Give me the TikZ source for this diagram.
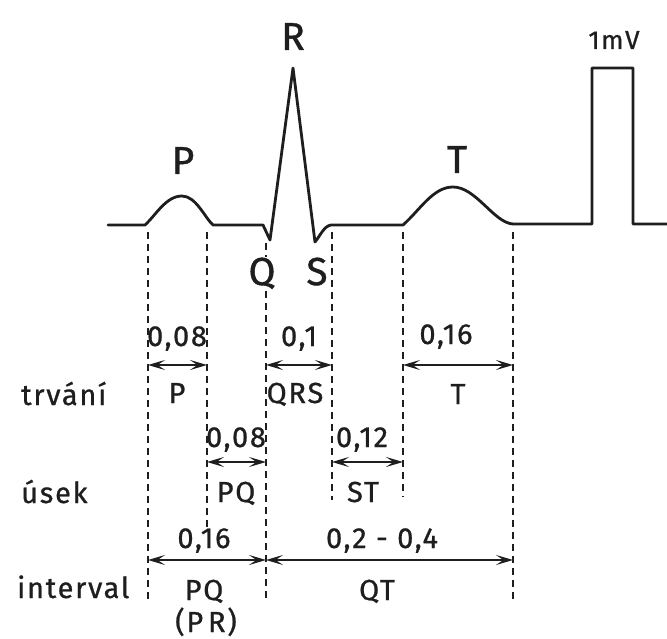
\documentclass[tikz,border=0pt]{standalone}
\usepackage{fontspec}
\setmainfont{Fira Sans}[FakeBold=0.8]
\newfontfamily\lblfont{Fira Sans}[LetterSpace=6,FakeBold=0.8]
\newfontfamily\bigfont{Fira Sans}[FakeBold=1]
\usetikzlibrary{arrows.meta}
\definecolor{ink}{RGB}{30,30,30}
\tikzset{
  trace/.style={ink, line width=2.8pt, line join=round, line cap=round},
  guide/.style={ink, line width=1.2pt, dash pattern=on 7pt off 5pt},
  dimarrow/.style={ink, line width=1.8pt, {Stealth[length=17pt,width=10pt,inset=7.5pt]}-{Stealth[length=17pt,width=10pt,inset=7.5pt]}},
  big/.style={ink, font=\bigfont\fontsize{39}{42}\selectfont, inner sep=0pt, anchor=base},
  lab/.style={ink, font=\lblfont\fontsize{29}{32}\selectfont, inner sep=0pt, anchor=base},
  rowlab/.style={ink, font=\lblfont\fontsize{29}{32}\selectfont, inner sep=0pt, anchor=base west}
}
\begin{document}
\begin{tikzpicture}[x=1pt,y=-1pt]
\useasboundingbox (0,0) rectangle (667,639);
\fill[white] (0,0) rectangle (667,639);

% guide lines
\draw[guide] (148,232) -- (148,600);
\draw[guide] (207,232) -- (207,530);
\draw[guide] (266,243) -- (266,600);
\draw[guide] (332,232) -- (332,500);
\draw[guide] (403,232) -- (403,497);
\draw[guide] (513,232) -- (513,600);

% ECG trace
\draw[trace] (108,225) -- (145,225)
  .. controls (156,215) and (166,196) .. (182,196)
  .. controls (196,196) and (205,218) .. (213,225)
  -- (263,225) -- (270,240) -- (293,68) -- (315,242)
  .. controls (320,236) and (324,226) .. (331,225)
  -- (403,225)
  .. controls (420,210) and (433,187) .. (453,187)
  .. controls (476,187) and (494,223) .. (513,224)
  -- (592,224) -- (592,68) -- (633,68) -- (633,224) -- (667,224);

% wave labels
\node[big] (lR) at (293,50) {R};
\node[big] (lP) at (183,174) {P};
\node[big] (lT) at (457,173) {T};
\node[big, fill=white, inner sep=1pt] (lQ) at (262,285) {Q};
\node[big] (lS) at (317,285) {S};
\node[lab, font=\lblfont\fontsize{26}{28}\selectfont] (lmv) at (614,49) {1mV};

% arrow end points
\coordinate (t1a) at (148,365); \coordinate (t1b) at (207,365);
\coordinate (t2a) at (266,365); \coordinate (t2b) at (332,365);
\coordinate (t3a) at (403,365); \coordinate (t3b) at (513,365);
\coordinate (u1a) at (207,462); \coordinate (u1b) at (266,462);
\coordinate (u2a) at (332,462); \coordinate (u2b) at (403,462);
\coordinate (i1a) at (148,560); \coordinate (i1b) at (266,560);
\coordinate (i2a) at (266,560); \coordinate (i2b) at (513,560);

\draw[dimarrow] (t1a) -- (t1b);
\draw[dimarrow] (t2a) -- (t2b);
\draw[dimarrow] (t3a) -- (t3b);
\draw[dimarrow] (u1a) -- (u1b);
\draw[dimarrow] (u2a) -- (u2b);
\draw[dimarrow] (i1a) -- (i1b);
\draw[dimarrow] (i2a) -- (i2b);

% trvání row
\node[lab] (n1) at (177,346) {0,08};
\node[lab] (n2) at (299,346) {0,1};
\node[lab] (n3) at (446,344) {0,16};
\node[lab] (d1) at (177,403) {P};
\node[lab] (d2) at (295,403) {QRS};
\node[lab] (d3) at (458,404) {T};

% úsek row
\node[lab] (n4) at (236,447) {0,08};
\node[lab] (n5) at (362,447) {0,12};
\node[lab] (d4) at (236,502) {PQ};
\node[lab] (d5) at (363,502) {ST};

% interval row
\node[lab] (n6) at (204,548) {0,16};
\node[lab] (n7) at (382,548) {0,2 - 0,4};
\node[lab] (d6) at (204,600) {PQ};
\node[lab] (d7) at (377,600) {QT};
\node[lab] (d8) at (206,632) {(P\,R)};

% row labels
\node[rowlab] (r1) at (21,405) {trvání};
\node[rowlab] (r2) at (21,503) {úsek};
\node[rowlab] (r3) at (17,598) {interval};
\end{tikzpicture}
\end{document}
